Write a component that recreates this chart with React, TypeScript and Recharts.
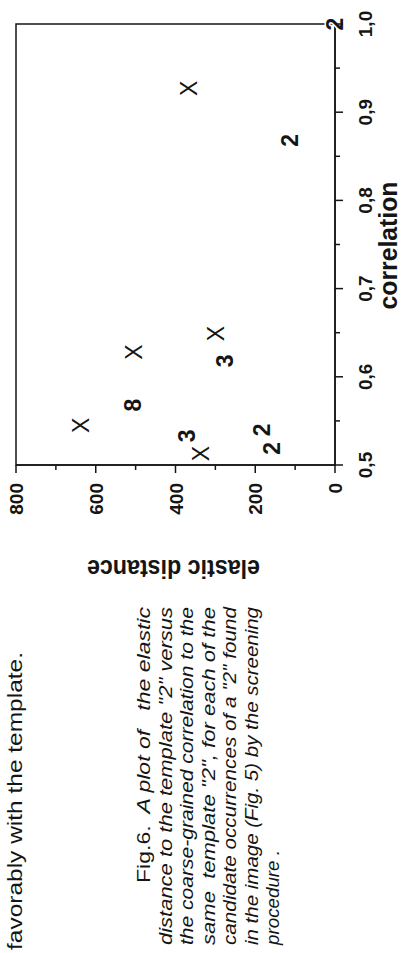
import { ScatterChart, Scatter, XAxis, YAxis, ReferenceArea, Label } from "recharts";

// candidates found by the screening, grouped by the glyph printed at each point
const crossCorr = [0.927, 0.649, 0.628, 0.545, 0.513];
const crossDist = [368, 298, 504, 638, 337];
const twoCorr = [1.0, 0.868, 0.54, 0.519];
const twoDist = [0, 113, 184, 159];
const threeCorr = [0.618, 0.533];
const threeDist = [276, 372];
const eightCorr = [0.568];
const eightDist = [507];

const corrTicks = [0.5, 0.55, 0.6, 0.65, 0.7, 0.75, 0.8, 0.85, 0.9, 0.95, 1.0];
const distTicks = [0, 100, 200, 300, 400, 500, 600, 700, 800];

const leadText = "favorably with the template.";
const captionHead = "Fig.6.";
const captionLines = [
  "  A plot of   the elastic",
  'distance to the template "2" versus',
  "the coarse-grained correlation to the",
  'same  template "2", for each of the',
  'candidate occurrences of a "2" found',
  "in the image (Fig. 5) by the screening",
  "procedure .",
];

const INK = "#151515";
const FONT = '"Liberation Sans", Arial, Helvetica, sans-serif';

const toPoints = (corr: number[], dist: number[]) => corr.map((c, i) => ({ corr: c, dist: dist[i] }));

const isMajor = (v: number, step: number) => Math.abs(v / step - Math.round(v / step)) < 1e-6;

// the crosses are printed lighter than the digits
const glyph = (ch: string, size: number, weight: string) => (props: any) => (
  <text
    x={props.cx}
    y={props.cy}
    dy="0.36em"
    textAnchor="middle"
    fontSize={size}
    fontWeight={weight}
    fontFamily={FONT}
    fill={INK}
    stroke="#fff"
    strokeWidth={3}
    paintOrder="stroke"
  >
    {ch}
  </text>
);

const CorrTick = (props: any) => {
  const { x, y, payload } = props;
  const v = payload.value as number;
  const major = isMajor(v, 0.1);
  return (
    <g>
      <line x1={x} y1={y} x2={x} y2={y + (major ? 8 : 5)} stroke={INK} strokeWidth={1.5} />
      {major && (
        <text x={x} y={y + 37} textAnchor="middle" fontSize={19} fontWeight="bold" fontFamily={FONT} fill={INK}>
          {v.toFixed(1).replace(".", ",")}
        </text>
      )}
    </g>
  );
};

const DistTick = (props: any) => {
  const { x, y, payload } = props;
  const v = payload.value as number;
  const major = isMajor(v, 200);
  return (
    <g>
      <line x1={x} y1={y} x2={x - (major ? 8 : 5)} y2={y} stroke={INK} strokeWidth={1.5} />
      {major && (
        <text x={x - 18} y={y + 7} textAnchor="end" fontSize={19} fontWeight="bold" fontFamily={FONT} fill={INK}>
          {v}
        </text>
      )}
    </g>
  );
};

const CorrLabel = (props: any) => {
  const vb = props.viewBox;
  return (
    <text
      x={vb.x + vb.width / 2 - 1}
      y={vb.y + 62}
      textAnchor="middle"
      fontSize={26}
      fontWeight="bold"
      fontFamily={FONT}
      fill={INK}
      textLength={128}
      lengthAdjust="spacingAndGlyphs"
    >
      correlation
    </text>
  );
};

const DistLabel = (props: any) => {
  const vb = props.viewBox;
  const x = vb.x + 53;
  const y = vb.y + vb.height / 2 - 2;
  return (
    <text
      x={x}
      y={y}
      transform={`rotate(-90, ${x}, ${y})`}
      textAnchor="middle"
      fontSize={25}
      fontWeight="bold"
      fontFamily={FONT}
      fill={INK}
      textLength={173}
      lengthAdjust="spacingAndGlyphs"
    >
      elastic distance
    </text>
  );
};

function Caption() {
  const last = captionLines.length - 1;
  return (
    <svg width={953} height={402} style={{ position: "absolute", left: 0, top: 0 }}>
      <text x={3} y={22} fontSize={20} fontFamily={FONT} fill={INK} textLength={298} lengthAdjust="spacingAndGlyphs">
        {leadText}
      </text>
      {captionLines.map((line, i) => {
        const x = i === 0 ? 70 : 8;
        const width = i === 0 ? 276 : i === last ? 95 : 338;
        return (
          <text
            key={i}
            x={x}
            y={150 + i * 21.5}
            fontSize={18}
            fontFamily={FONT}
            fill={INK}
            textLength={width}
            lengthAdjust="spacingAndGlyphs"
            style={{ whiteSpace: "pre" }}
          >
            {i === 0 && <tspan fontStyle="normal">{captionHead}</tspan>}
            <tspan fontStyle="italic">{line}</tspan>
          </text>
        );
      })}
    </svg>
  );
}

export default function App() {
  return (
    <div style={{ position: "absolute", left: 0, top: 0, width: 402, height: 953, overflow: "hidden", background: "#fff" }}>
      {/* the scanned page is turned a quarter turn, so lay it out upright and rotate */}
      <div
        style={{
          position: "absolute",
          left: 0,
          top: 0,
          width: 953,
          height: 402,
          transformOrigin: "0 0",
          transform: "translate(0px, 953px) rotate(-90deg)",
        }}
      >
        <Caption />
        <div style={{ position: "absolute", left: 0, top: 0 }}>
          <ScatterChart width={953} height={402} margin={{ top: 16, right: 24, bottom: 0, left: 340 }}>
            <XAxis
              type="number"
              dataKey="corr"
              domain={[0.5, 1]}
              ticks={corrTicks}
              interval={0}
              height={67}
              tickSize={0}
              tickMargin={0}
              tickLine={false}
              axisLine={{ stroke: INK, strokeWidth: 1.5 }}
              tick={CorrTick}
            >
              <Label content={CorrLabel} />
            </XAxis>
            <YAxis
              type="number"
              dataKey="dist"
              domain={[0, 800]}
              ticks={distTicks}
              interval={0}
              width={148}
              tickSize={0}
              tickMargin={0}
              tickLine={false}
              axisLine={{ stroke: INK, strokeWidth: 1.5 }}
              tick={DistTick}
            >
              <Label content={DistLabel} />
            </YAxis>
            <ReferenceArea x1={0.5} x2={1} y1={0} y2={800} fill="none" stroke={INK} strokeWidth={1.5} />
            <Scatter data={toPoints(crossCorr, crossDist)} shape={glyph("X", 23, "normal")} isAnimationActive={false} />
            <Scatter data={toPoints(threeCorr, threeDist)} shape={glyph("3", 23, "bold")} isAnimationActive={false} />
            <Scatter data={toPoints(eightCorr, eightDist)} shape={glyph("8", 23, "bold")} isAnimationActive={false} />
            <Scatter data={toPoints(twoCorr, twoDist)} shape={glyph("2", 23, "bold")} isAnimationActive={false} />
          </ScatterChart>
        </div>
      </div>
    </div>
  );
}
